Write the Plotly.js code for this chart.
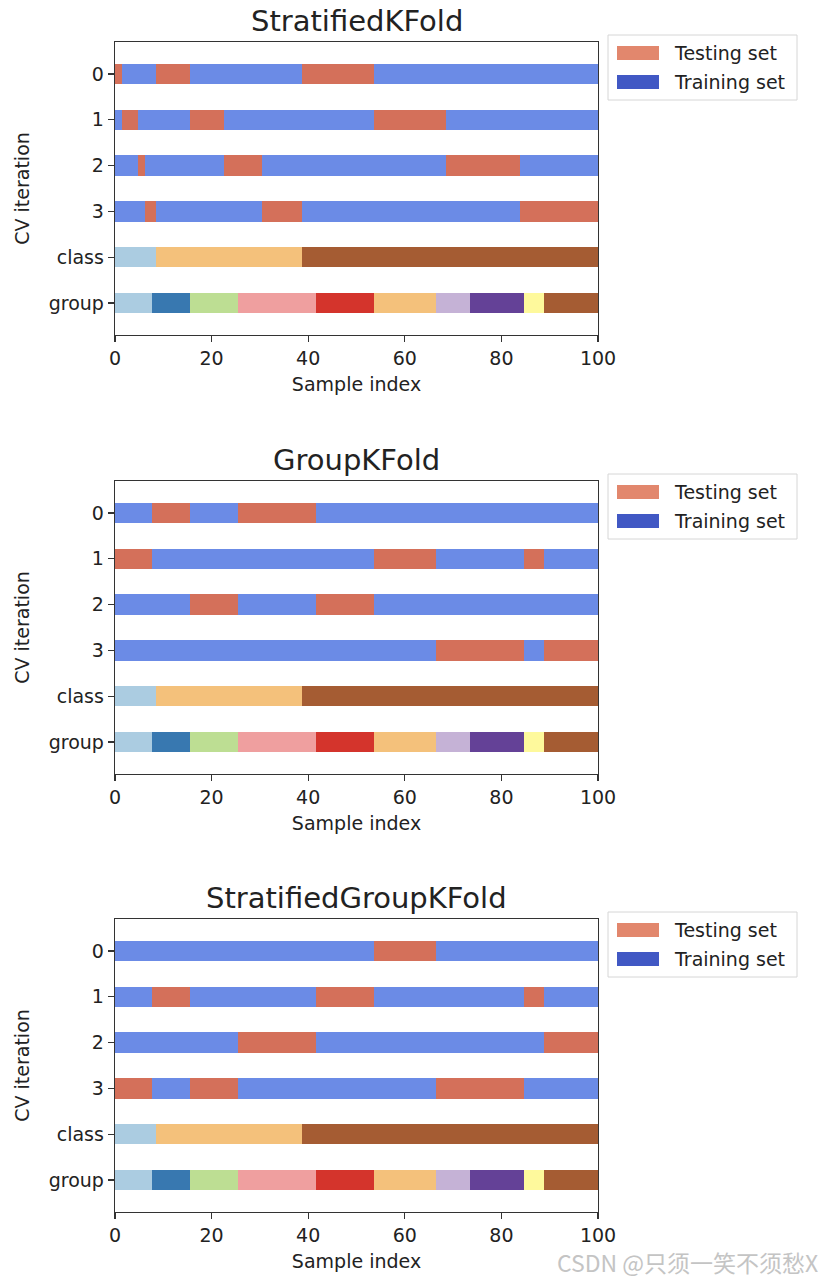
<!DOCTYPE html>
<html>
<head>
<meta charset="utf-8">
<script src="https://cdn.plot.ly/plotly-3.0.1.min.js"></script>
<style>
  html, body { margin: 0; padding: 0; background: #ffffff; }
  #chart { width: 834px; height: 1282px; }
</style>
</head>
<body>
<div id="chart"></div>
<script>
// ---------------- DATA ----------------
const plotTitles = ['StratifiedKFold', 'GroupKFold', 'StratifiedGroupKFold'];
const rowLabels = ['0', '1', '2', '3', 'class', 'group'];
const rowValues = [0.5, 1.5, 2.5, 3.5, 4.5, 5.5];
const xTickValues = [0, 20, 40, 60, 80, 100];
const legendLabels = ['Testing set', 'Training set'];

// visible edges of class / group runs along "Sample index"
const classEdges = [0, 8.5, 38.7, 100];
const classColors = ['#abcce1', '#f4c17b', '#a55c33'];
const groupEdges = [0, 7.6, 15.5, 25.4, 41.6, 53.6, 66.4, 73.5, 84.6, 88.8, 100];
const groupColors = ['#abcce1', '#3878b0', '#bdde93', '#ef9f9f', '#d4342c',
                     '#f4c17b', '#c5b2d6', '#644197', '#fef99c', '#a55c33'];

// testing intervals for each CV iteration (rest is training)
const skfTest = [
  [[0, 1.5], [8.5, 15.5], [38.7, 53.6]],
  [[1.5, 4.7], [15.5, 22.6], [53.6, 68.5]],
  [[4.7, 6.3], [22.6, 30.4], [68.5, 83.8]],
  [[6.3, 8.5], [30.4, 38.7], [83.8, 100]]
];
const gkfTest = [
  [[7.6, 15.5], [25.4, 41.6]],
  [[0, 7.6], [53.6, 66.4], [84.6, 88.8]],
  [[15.5, 25.4], [41.6, 53.6]],
  [[66.4, 84.6], [88.8, 100]]
];
const sgkfTest = [
  [[53.6, 66.4]],
  [[7.6, 15.5], [41.6, 53.6], [84.6, 88.8]],
  [[25.4, 41.6], [88.8, 100]],
  [[0, 7.6], [15.5, 25.4], [66.4, 84.6]]
];
const allTests = [skfTest, gkfTest, sgkfTest];

// ---------------- STYLE ----------------
const FONT = 'DejaVu Sans, sans-serif';
const TXT = '#222222';
const testColor = '#d4705a';
const trainColor = '#6b8be6';
const legendTestColor = '#e2876d';
const legendTrainColor = '#4158c4';
const barWidth = 0.45;

// pixel geometry
const W = 834, H = 1282;
const M = {l: 115, r: 236, t: 42, b: 70};
const plotW = W - M.l - M.r;
const plotH = H - M.t - M.b;
const plotTops = [42, 481, 919];
const plotHeight = 293;
const px2x = p => (p - M.l) / plotW;
const py2y = p => (H - M.b - p) / plotH;

const traces = [];
const axSuffix = ['', '2', '3'];

function complement(intervals) {
  const out = [];
  let cur = 0;
  intervals.slice().sort((a, b) => a[0] - b[0]).forEach(iv => {
    if (iv[0] > cur) out.push([cur, iv[0]]);
    cur = Math.max(cur, iv[1]);
  });
  if (cur < 100) out.push([cur, 100]);
  return out;
}

allTests.forEach((folds, s) => {
  const xa = 'x' + axSuffix[s], ya = 'y' + axSuffix[s];
  const tr = {y: [], base: [], x: []};
  const te = {y: [], base: [], x: []};
  folds.forEach((ivs, i) => {
    ivs.forEach(iv => { te.y.push(rowValues[i]); te.base.push(iv[0]); te.x.push(iv[1] - iv[0]); });
    complement(ivs).forEach(iv => { tr.y.push(rowValues[i]); tr.base.push(iv[0]); tr.x.push(iv[1] - iv[0]); });
  });
  traces.push({type: 'bar', orientation: 'h', name: legendLabels[1], x: tr.x, base: tr.base, y: tr.y,
    width: barWidth, marker: {color: trainColor, line: {width: 0}}, xaxis: xa, yaxis: ya, showlegend: false});
  traces.push({type: 'bar', orientation: 'h', name: legendLabels[0], x: te.x, base: te.base, y: te.y,
    width: barWidth, marker: {color: testColor, line: {width: 0}}, xaxis: xa, yaxis: ya, showlegend: false});
  // class row
  const cx = [], cb = [];
  for (let k = 0; k < classEdges.length - 1; k++) { cb.push(classEdges[k]); cx.push(classEdges[k + 1] - classEdges[k]); }
  traces.push({type: 'bar', orientation: 'h', name: 'class', x: cx, base: cb, y: cx.map(() => rowValues[4]),
    width: barWidth, marker: {color: classColors, line: {width: 0}}, xaxis: xa, yaxis: ya, showlegend: false});
  // group row
  const gx = [], gb = [];
  for (let k = 0; k < groupEdges.length - 1; k++) { gb.push(groupEdges[k]); gx.push(groupEdges[k + 1] - groupEdges[k]); }
  traces.push({type: 'bar', orientation: 'h', name: 'group', x: gx, base: gb, y: gx.map(() => rowValues[5]),
    width: barWidth, marker: {color: groupColors, line: {width: 0}}, xaxis: xa, yaxis: ya, showlegend: false});
});

const layout = {
  width: W, height: H,
  margin: M,
  paper_bgcolor: '#ffffff', plot_bgcolor: '#ffffff',
  barmode: 'overlay',
  bargap: 0,
  font: {family: FONT, size: 19, color: TXT},
  showlegend: false,
  shapes: [],
  annotations: []
};

plotTops.forEach((top, s) => {
  const y0 = py2y(top + plotHeight), y1 = py2y(top);
  layout['xaxis' + axSuffix[s]] = {
    domain: [0, 1], anchor: 'y' + axSuffix[s], range: [0, 100],
    tickvals: xTickValues, ticktext: xTickValues.map(String),
    ticks: 'outside', ticklen: 6, tickwidth: 1.3, tickcolor: '#333',
    showline: true, mirror: true, linecolor: '#333', linewidth: 1.3,
    showgrid: false, zeroline: false,
    tickfont: {family: FONT, size: 19, color: TXT},
    title: {text: 'Sample index', font: {family: FONT, size: 19, color: TXT}, standoff: 9}
  };
  layout['yaxis' + axSuffix[s]] = {
    domain: [y0, y1], anchor: 'x' + axSuffix[s], range: [6.2, -0.2],
    tickvals: rowValues, ticktext: rowLabels,
    ticks: 'outside', ticklen: 6, tickwidth: 1.3, tickcolor: '#333',
    showline: true, mirror: true, linecolor: '#333', linewidth: 1.3,
    showgrid: false, zeroline: false,
    tickfont: {family: FONT, size: 19, color: TXT},
    title: {text: 'CV iteration', font: {family: FONT, size: 19, color: TXT}, standoff: 14}
  };
  // subplot title
  layout.annotations.push({
    xref: 'paper', yref: 'paper', x: px2x(356.5), y: py2y(top - 21),
    xanchor: 'center', yanchor: 'middle', showarrow: false,
    text: plotTitles[s], font: {family: FONT, size: 29, color: TXT}
  });
  // legend box
  layout.shapes.push({type: 'rect', xref: 'paper', yref: 'paper',
    x0: px2x(608), x1: px2x(797), y0: py2y(top - 7), y1: py2y(top + 58),
    line: {color: '#d6d6d6', width: 1}, fillcolor: 'rgba(255,255,255,0.8)'});
  layout.shapes.push({type: 'rect', xref: 'paper', yref: 'paper',
    x0: px2x(617), x1: px2x(659), y0: py2y(top + 4), y1: py2y(top + 18),
    line: {width: 0}, fillcolor: legendTestColor});
  layout.shapes.push({type: 'rect', xref: 'paper', yref: 'paper',
    x0: px2x(617), x1: px2x(659), y0: py2y(top + 33), y1: py2y(top + 47),
    line: {width: 0}, fillcolor: legendTrainColor});
  layout.annotations.push({xref: 'paper', yref: 'paper', x: px2x(672), y: py2y(top + 11),
    xanchor: 'left', yanchor: 'middle', showarrow: false, text: legendLabels[0],
    font: {family: FONT, size: 19, color: TXT}});
  layout.annotations.push({xref: 'paper', yref: 'paper', x: px2x(672), y: py2y(top + 40),
    xanchor: 'left', yanchor: 'middle', showarrow: false, text: legendLabels[1],
    font: {family: FONT, size: 19, color: TXT}});
});

// watermark
layout.annotations.push({xref: 'paper', yref: 'paper', x: px2x(820), y: py2y(1262),
  xanchor: 'right', yanchor: 'middle', showarrow: false, text: 'CSDN @只须一笑不须愁X',
  font: {family: 'Noto Sans CJK SC, sans-serif', size: 23, color: '#c4c4c4'}});

Plotly.newPlot('chart', traces, layout, {displayModeBar: false, staticPlot: true});
</script>
</body>
</html>
